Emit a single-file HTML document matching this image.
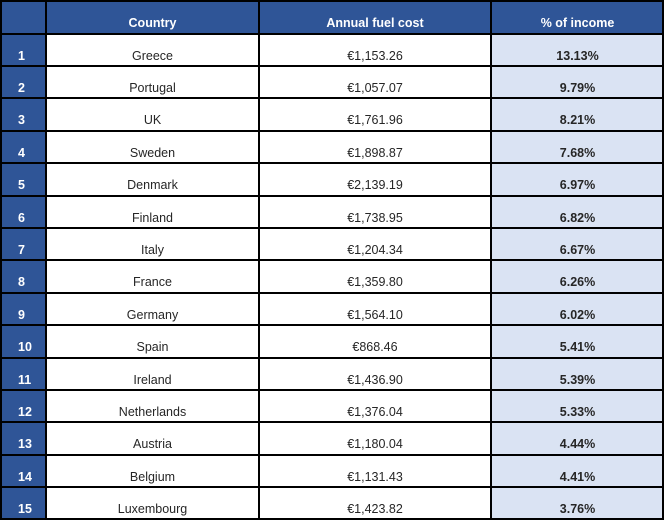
<!DOCTYPE html>
<html><head><style>
body{margin:0;width:664px;height:520px;overflow:hidden;background:#fff;font-family:"Liberation Sans",sans-serif;position:relative}
.c{position:absolute;box-sizing:border-box;font-size:12.5px;color:#262626;text-align:center}
.h{background:#2F5597;color:#fff;font-weight:bold}
.n{background:#2F5597;color:#fff;font-weight:bold;text-align:left;padding-left:18px}
.p{background:#DAE3F3;font-weight:bold}
.hl{position:absolute;left:0;width:664px;height:2px;background:#000}
.vl{position:absolute;top:0;height:520px;width:2px;background:#000}
</style></head><body>
<div id="t"></div>
<script>
var d=[["Greece","€1,153.26","13.13%"],["Portugal","€1,057.07","9.79%"],["UK","€1,761.96","8.21%"],["Sweden","€1,898.87","7.68%"],["Denmark","€2,139.19","6.97%"],["Finland","€1,738.95","6.82%"],["Italy","€1,204.34","6.67%"],["France","€1,359.80","6.26%"],["Germany","€1,564.10","6.02%"],["Spain","€868.46","5.41%"],["Ireland","€1,436.90","5.39%"],["Netherlands","€1,376.04","5.33%"],["Austria","€1,180.04","4.44%"],["Belgium","€1,131.43","4.41%"],["Luxembourg","€1,423.82","3.76%"]];
var h="";
function cell(x0,x1,y0,y1,cls,txt){h+='<div class="c '+cls+'" style="left:'+x0+'px;width:'+(x1-x0)+'px;top:'+y0+'px;height:'+(y1-y0)+'px;line-height:'+(2*(y1-y0)-20)+'px;">'+txt+'</div>';}
var hy0=0,hy1=33.5;
cell(0,46,hy0,hy1,"h","");cell(46,259,hy0,hy1,"h","Country");cell(259,491,hy0,hy1,"h","Annual fuel cost");cell(491,664,hy0,hy1,"h","% of income");
for(var i=0;i<15;i++){var y0=33.5+i*32.4,y1=y0+32.4;
h+='<div class="c n" style="left:0;width:46px;top:'+y0+'px;height:32.4px;line-height:'+(2*32.4-20)+'px">'+(i+1)+'</div>';
cell(46,259,y0,y1,"",d[i][0]);cell(259,491,y0,y1,"",d[i][1]);cell(491,664,y0,y1,"p",d[i][2]);}
for(var i=0;i<=16;i++){var y=i==0?0:(33.5+(i-1)*32.4-1);if(i==16)y=518;h+='<div class="hl" style="top:'+y+'px"></div>';}
[0,45,258,490,662].forEach(function(x){h+='<div class="vl" style="left:'+x+'px"></div>';});
document.getElementById("t").innerHTML=h;
</script>
</body></html>
